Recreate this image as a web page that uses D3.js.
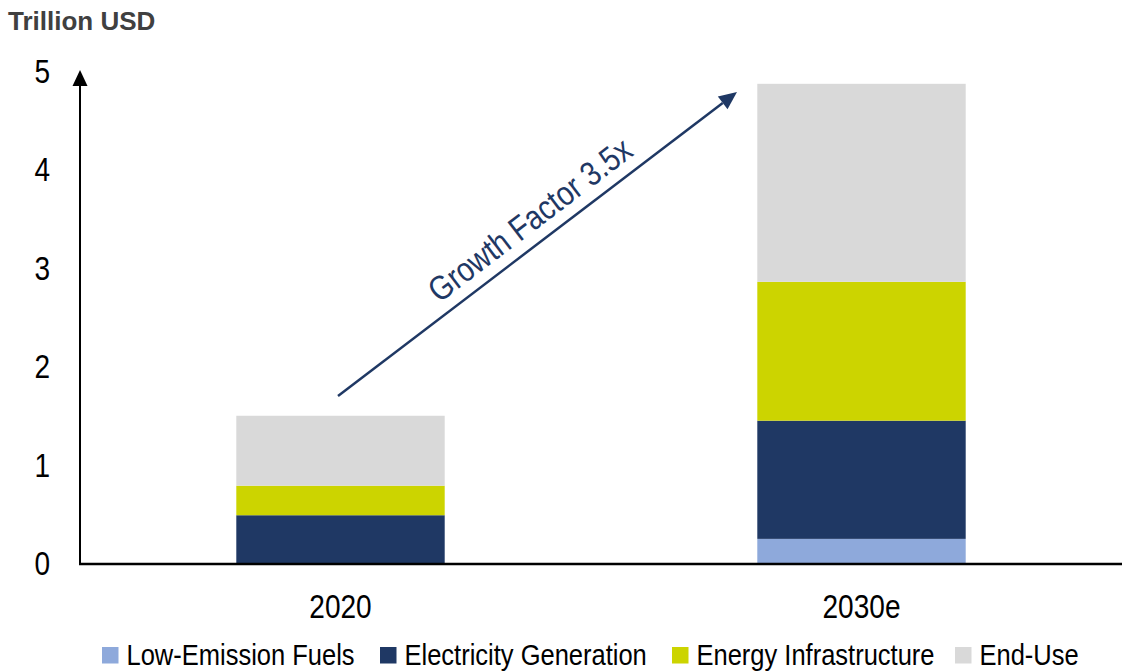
<!DOCTYPE html>
<html><head><meta charset="utf-8">
<script src="https://cdn.jsdelivr.net/npm/d3@7/dist/d3.min.js"></script>
<style>
body{margin:0;background:#fff;}
text{font-family:"Liberation Sans",Arial,sans-serif;}
</style></head>
<body><svg id="c" width="1132" height="671"></svg>
<script>
const categories = ["2020", "2030e"];
const seriesNames = ["Low-Emission Fuels", "Electricity Generation", "Energy Infrastructure", "End-Use"];
const lowEmissionFuels = [0, 0.25];
const electricityGeneration = [0.49, 1.20];
const energyInfrastructure = [0.30, 1.41];
const endUse = [0.71, 2.01];
const yTicks = [0, 1, 2, 3, 4, 5];
const colors = ["#8EA9DB", "#1F3864", "#CCD400", "#D9D9D9"];
const annotation = "Growth Factor 3.5x";
const yTitle = "Trillion USD";

const SX = 0.85; // condensed text look
const svg = d3.select("#c");
const series = [lowEmissionFuels, electricityGeneration, energyInfrastructure, endUse];
const rows = categories.map((c, i) => {
  const r = {cat: c};
  seriesNames.forEach((s, j) => r[s] = series[j][i]);
  return r;
});
const stacked = d3.stack().keys(seriesNames)(rows);

const x = d3.scaleBand().domain(categories).range([80, 1122]).paddingInner(0.6).paddingOuter(0.3);
const y = d3.scaleLinear().domain([0, 5]).range([563.5, 71]);

// bars
svg.append("g").selectAll("g").data(stacked).join("g")
  .attr("fill", (d, i) => colors[i])
  .selectAll("rect").data(d => d).join("rect")
  .attr("x", d => x(d.data.cat))
  .attr("width", x.bandwidth())
  .attr("y", d => y(d[1]))
  .attr("height", d => y(d[0]) - y(d[1]));

// y tick labels
svg.append("g").selectAll("text").data(yTicks).join("text")
  .attr("transform", d => `translate(50,${y(d)}) scale(${SX},1)`)
  .attr("dy", "0.36em")
  .attr("text-anchor", "end").attr("font-size", 33).attr("fill", "#000")
  .text(d => d);

// x labels
svg.append("g").selectAll("text").data(categories).join("text")
  .attr("transform", d => `translate(${x(d) + x.bandwidth() / 2},618) scale(${SX},1)`)
  .attr("text-anchor", "middle").attr("font-size", 33).attr("fill", "#000")
  .text(d => d);

// axes
svg.append("line").attr("x1", 79).attr("x2", 1122).attr("y1", 564).attr("y2", 564)
  .attr("stroke", "#000").attr("stroke-width", 2.5);
svg.append("line").attr("x1", 80).attr("x2", 80).attr("y1", 565).attr("y2", 82)
  .attr("stroke", "#000").attr("stroke-width", 2);
svg.append("path").attr("d", "M80,70 L87.5,86 L72.5,86 Z").attr("fill", "#000");

// title
svg.append("text").attr("x", 8).attr("y", 30).attr("font-size", 26)
  .attr("font-weight", "bold").attr("fill", "#404040")
  .text(yTitle);

// growth arrow
const x0 = 338, y0 = 396, x1 = 737, y1 = 92;
const ang = Math.atan2(y1 - y0, x1 - x0);
const hl = 18, hw = 8;
const bx = x1 - hl * Math.cos(ang), by = y1 - hl * Math.sin(ang);
svg.append("line").attr("x1", x0).attr("y1", y0).attr("x2", bx).attr("y2", by)
  .attr("stroke", "#1F3864").attr("stroke-width", 2.5);
svg.append("path").attr("d",
  `M${x1},${y1} L${bx + hw * Math.sin(ang)},${by - hw * Math.cos(ang)} L${bx - hw * Math.sin(ang)},${by + hw * Math.cos(ang)} Z`)
  .attr("fill", "#1F3864");
svg.append("text").attr("transform", `translate(537,229) rotate(${ang * 180 / Math.PI}) scale(${SX},1)`)
  .attr("text-anchor", "middle").attr("font-size", 34).attr("fill", "#1F3864")
  .text(annotation);

// legend
const legX = [102, 380, 672, 955];
const lg = svg.append("g").selectAll("g").data(seriesNames).join("g")
  .attr("transform", (d, i) => `translate(${legX[i]},647)`);
lg.append("rect").attr("width", 16.5).attr("height", 16.5).attr("fill", (d, i) => colors[i]);
lg.append("text").attr("transform", `translate(24.5,18) scale(${SX},1)`)
  .attr("font-size", 30).attr("fill", "#000").text(d => d);
</script></body></html>
